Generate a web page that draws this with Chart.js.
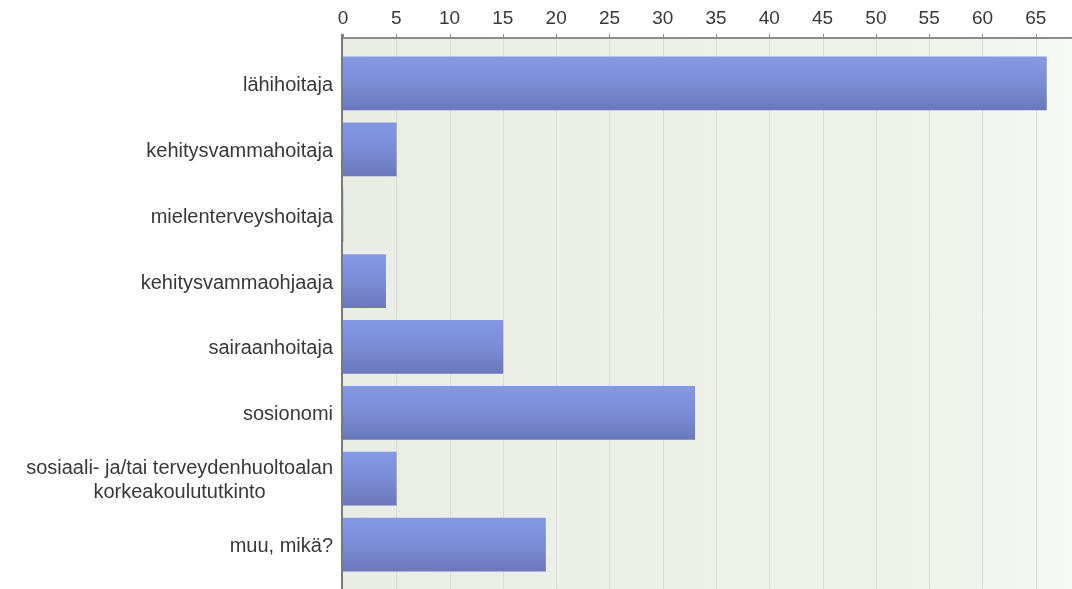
<!DOCTYPE html>
<html lang="fi">
<head>
<meta charset="utf-8">
<title>Koulutus</title>
<script src="https://cdn.jsdelivr.net/npm/chart.js@4/dist/chart.umd.min.js"></script>
<style>
  html, body { margin: 0; padding: 0; background: #fff; overflow: hidden; }
  #wrap { width: 1072px; height: 589px; }
</style>
</head>
<body>
<div id="wrap"><canvas id="grafico" width="1072" height="589"></canvas></div>
<script>
// Ammattinimikkeet ja vastausmäärät
const ammatit = [
  "lähihoitaja",
  "kehitysvammahoitaja",
  "mielenterveyshoitaja",
  "kehitysvammaohjaaja",
  "sairaanhoitaja",
  "sosionomi",
  ["sosiaali- ja/tai terveydenhuoltoalan", "korkeakoulututkinto"],
  "muu, mikä?"
];
const vastaukset = [66, 5, 0, 4, 15, 33, 5, 19];
const xMax = 68.4;
const xStep = 5;

const FONT = "'Liberation Sans', Arial, sans-serif";
const TEXT = "#383838";

// Tausta, pystyviivat ja akselit piirretään koko korkeudelle
const taustaPlugin = {
  id: "tausta",
  beforeDatasetsDraw(chart){
    const { ctx, chartArea, scales } = chart;
    const top = chartArea.top - 12.5;
    const bottom = chart.height;
    const g = ctx.createLinearGradient(chartArea.left, 0, chartArea.right, 0);
    g.addColorStop(0, "#eaede6");
    g.addColorStop(0.85, "#f0f2ec");
    g.addColorStop(1, "#f7f9f5");
    ctx.save();
    ctx.fillStyle = g;
    ctx.fillRect(chartArea.left, top, chartArea.right - chartArea.left, bottom - top);
    ctx.strokeStyle = "#d9dcd5";
    ctx.lineWidth = 1;
    scales.x.ticks.forEach(t => {
      if (t.value === 0) return;
      const x = Math.round(scales.x.getPixelForValue(t.value)) + 0.5;
      ctx.beginPath();
      ctx.moveTo(x, top);
      ctx.lineTo(x, bottom);
      ctx.stroke();
    });
    ctx.restore();
  },
  afterDatasetsDraw(chart){
    const { ctx, chartArea, scales } = chart;
    const top = chartArea.top - 12.5;
    ctx.save();
    // yläakseli ja tikit
    ctx.strokeStyle = "#8c8c8c";
    ctx.lineWidth = 2;
    ctx.beginPath();
    ctx.moveTo(chartArea.left - 1, top);
    ctx.lineTo(chartArea.right, top);
    ctx.stroke();
    ctx.lineWidth = 1;
    scales.x.ticks.forEach(t => {
      const x = Math.round(scales.x.getPixelForValue(t.value)) + 0.5;
      ctx.beginPath();
      ctx.moveTo(x, top - 4);
      ctx.lineTo(x, top);
      ctx.stroke();
    });
    // vasen akseli
    ctx.strokeStyle = "#7a7a7a";
    ctx.lineWidth = 2;
    ctx.beginPath();
    ctx.moveTo(chartArea.left - 1, top - 4);
    ctx.lineTo(chartArea.left - 1, chart.height);
    ctx.stroke();
    ctx.restore();
  },
  // kategorianimet: monirivinen nimi keskitetään riveittäin
  afterDraw(chart){
    const { ctx, chartArea, scales } = chart;
    const right = chartArea.left - 10;
    const lh = 24;
    ctx.save();
    ctx.font = `20px ${FONT}`;
    ctx.fillStyle = TEXT;
    ctx.textBaseline = "middle";
    ammatit.forEach((nimi, i) => {
      const y = scales.y.getPixelForValue(i) + 2;
      const rivit = Array.isArray(nimi) ? nimi : [nimi];
      if (rivit.length === 1){
        ctx.textAlign = "right";
        ctx.fillText(rivit[0], right, y);
        return;
      }
      const w = Math.max(...rivit.map(r => ctx.measureText(r).width));
      ctx.textAlign = "center";
      rivit.forEach((r, k) => {
        ctx.fillText(r, right - w / 2, y + (k - (rivit.length - 1) / 2) * lh);
      });
    });
    ctx.restore();
  }
};

function palkinVari(context){
  const chart = context.chart;
  const y = chart.scales.y;
  if (!chart.chartArea || !y) return "#7787d0";
  const c = y.getPixelForValue(context.dataIndex);
  const g = chart.ctx.createLinearGradient(0, c - 27, 0, c + 27);
  g.addColorStop(0, "#8599e2");
  g.addColorStop(0.5, "#7b8cd6");
  g.addColorStop(1, "#6a77ba");
  return g;
}

const ctx = document.getElementById("grafico").getContext("2d");
new Chart(ctx, {
  type: "bar",
  data: {
    labels: ammatit,
    datasets: [{
      data: vastaukset,
      backgroundColor: palkinVari,
      borderWidth: 0,
      barThickness: 53
    }]
  },
  options: {
    indexAxis: "y",
    responsive: false,
    animation: false,
    layout: { padding: { top: 7, bottom: 11.5, left: 0, right: 0 } },
    plugins: { legend: { display: false }, tooltip: { enabled: false } },
    scales: {
      x: {
        position: "top",
        min: 0,
        max: xMax,
        grid: { display: false, drawTicks: false },
        border: { display: false },
        ticks: {
          stepSize: xStep,
          includeBounds: false,
          padding: 20,
          color: TEXT,
          font: { family: FONT, size: 19 }
        },
        afterFit(scale){ scale.height = 43.5; }
      },
      y: {
        grid: { display: false, drawTicks: false },
        border: { display: false },
        ticks: { display: false },
        afterFit(scale){ scale.width = 343; }
      }
    }
  },
  plugins: [taustaPlugin]
});
</script>
</body>
</html>
